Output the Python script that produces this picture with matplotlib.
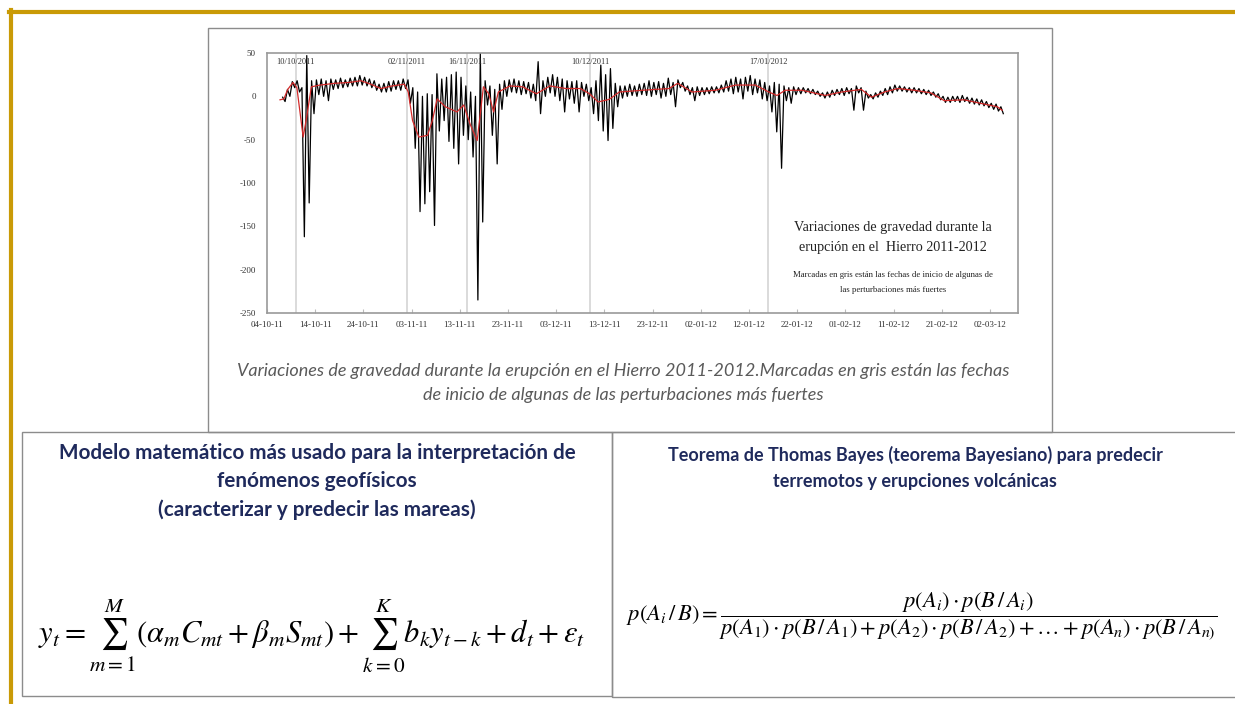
import datetime as dt

import numpy as np
import matplotlib
matplotlib.use('Agg')
from matplotlib import pyplot as plt
import matplotlib.dates as mdates
from matplotlib.patches import Rectangle
from matplotlib.lines import Line2D

plt.rcParams['axes.unicode_minus'] = False
plt.rcParams['mathtext.fontset'] = 'stix'

W, H = 1235, 704

# --- data --------------------------------------------------------------
start_date = dt.datetime(2011, 10, 4)

# smoothed gravity (red), knots as (days after 04-10-11, value)
red_days = [2.7, 3.5, 4.3, 5.4, 6.2, 7.0, 7.5, 8.2, 9.2, 11, 14, 17, 19.5, 21.5,
            23.6, 26, 28.5, 29.3, 30.2, 31.5, 33.3, 34.3, 35.3, 37, 39.4, 40.8,
            42.2, 43.6, 44.9, 46, 47, 48, 50.4, 53, 55.9, 58.7, 62, 65, 66.9,
            68.7, 71, 73.1, 77.9, 83.4, 85.2, 87.6, 88.2, 93, 97.2, 101.3, 104.1,
            105.8, 107.5, 111, 115.8, 119.2, 123.3, 125.4, 128.1, 130.9, 134.3,
            137.7, 140.5, 144.6, 148, 151.5, 152.5]
red_vals = [-4, -3, 8, 16, 10, -25, -47, -25, 11, 13, 15, 16, 18, 14,
            9, 12, 14, 5, -28, -47, -45, -28, -3, -12, -18, -10,
            -33, -51, 11, 3, -18, 5, 12, 11, 3, 12, 9, 9, 3,
            -6.5, -3.5, 5, 7, 9, 15, 7, 5, 7, 13, 13, 5,
            1, 7, 7, 1, 5, 8, -1, 5, 9, 7,
            4, -5, -4, -8, -12, -16]

# raw gravity (black): daily high / low, days 3..152
raw_first_day = 3
raw_hi = [-1, 8, 17, 18, 10, 47, 18, 19, 20, 18, 20, 19, 21, 19, 21, 22, 24, 22,
          20, 18, 14, 15, 17, 18, 18, 20, 19, 10, 5, 0, 3, 2, 26, 20, 22, 25, 28,
          22, 12, 5, 0, 50, 18, 12, 8, 14, 18, 19, 20, 18, 17, 16, 14, 40, 18, 22,
          25, 22, 20, 18, 17, 18, 16, 14, 10, 18, 36, 25, 32, 15, 12, 12, 14, 12,
          14, 15, 18, 16, 17, 15, 21, 16, 19, 16, 12, 10, 11, 10, 10, 11, 11, 13,
          18, 20, 22, 20, 22, 24, 20, 19, 16, 12, 16, 14, 12, 10, 11, 10, 10, 9,
          8, 6, 4, 5, 7, 8, 9, 10, 9, 12, 10, 6, 2, 4, 6, 9, 11, 13, 12, 11, 10,
          10, 9, 8, 7, 5, 3, 0, -1, 0, 0, 1, -1, -2, -3, -4, -6, -8, -9, -12]
raw_lo = [-6, 0, 10, 5, -162, -123, -20, 2, 0, -5, 8, 9, 10, 11, 12, 12, 13, 12,
          10, 7, 5, 5, 6, 8, 7, 9, -8, -60, -133, -124, -110, -149, -40, -28,
          -52, -60, -78, -45, -50, -70, -235, -145, -10, -45, -78, -15, 0, 5, 4,
          2, 3, -2, -5, -20, 0, 4, 0, -5, -18, -3, -8, -18, 0, -5, -20, -28, -40,
          -51, -37, -12, -2, 0, 1, 0, 2, 1, 0, 2, -2, 0, 2, -12, 10, 6, 2, -5, 1,
          2, 3, 4, 4, 5, 6, 3, 5, -3, 6, 2, 4, -3, -5, -18, -41, -83, -5, -8, 2,
          3, 4, 3, 2, 0, -2, -1, 1, 2, 1, 3, -16, 4, -16, -2, -3, -1, 1, 2, 4, 6,
          6, 5, 4, 4, 3, 2, 1, -1, -4, -7, -7, -6, -7, -6, -8, -9, -10, -11, -13,
          -15, -17, -20]

# onset of the strongest disturbances (grey lines)
event_days = [6, 29, 41.5, 67, 104]
event_labels = ['10/10/2011', '02/11/2011', '16/11/2011', '10/12/2011', '17/01/2012']

y_ticks = [50, 0, -50, -100, -150, -200, -250]

# --- figure ------------------------------------------------------------
fig = plt.figure(figsize=(W / 100, H / 100), dpi=100)
fig.patch.set_facecolor('white')


def fx(px):
    return px / W


def fy(py):
    return 1 - py / H


gold = '#C99A06'
fig.add_artist(Line2D([fx(9), fx(1235)], [fy(11.5), fy(11.5)], color=gold, lw=3))
fig.add_artist(Line2D([fx(10.5), fx(10.5)], [fy(10), fy(704)], color=gold, lw=3))

# boxes: chart, lower left, lower right
for x0, y0, x1, y1 in [(208, 28, 1052, 432), (22, 432, 612, 696), (612, 432, 1240, 697)]:
    fig.add_artist(Rectangle((fx(x0), fy(y1)), fx(x1 - x0), (y1 - y0) / H,
                             fill=False, edgecolor='#8c8c8c', lw=1.0))

# --- chart -------------------------------------------------------------
ax = fig.add_axes([fx(267), fy(313), fx(1018 - 267), 260 / H])
t0 = mdates.date2num(start_date)

for d in event_days:
    ax.axvline(t0 + d, color='#d4d4d4', lw=1.2, zorder=1)

raw_days = np.arange(raw_first_day, raw_first_day + len(raw_hi))
bx = np.column_stack((raw_days + 0.25, raw_days + 0.75)).ravel() + t0
by = np.column_stack((raw_hi, raw_lo)).ravel()
ax.plot(bx, by, color='black', lw=0.9, zorder=2)
ax.plot(t0 + np.array(red_days), red_vals, color='#d42a2a', lw=0.9, zorder=3)

for d, lab in zip(event_days, event_labels):
    ax.text(t0 + d, 0.965, lab, transform=ax.get_xaxis_transform(), ha='center',
            va='center', fontsize=6, family='Liberation Serif', color='#333333')

ax.set_ylim(-250, 50)
ax.set_yticks(y_ticks)
ax.set_xlim(t0, t0 + 155.8)
ax.set_xticks([t0 + 10 * i for i in range(16)])
ax.xaxis.set_major_formatter(mdates.DateFormatter('%d-%m-%y'))
for lab in ax.get_xticklabels() + ax.get_yticklabels():
    lab.set_family('Liberation Serif')
    lab.set_fontsize(6.5)
    lab.set_color('#333333')
ax.tick_params(axis='x', direction='in', length=3, color='#bbbbbb', pad=6)
ax.tick_params(axis='y', length=0, pad=8)
for s in ax.spines.values():
    s.set_color('#9a9a9a')
    s.set_linewidth(1.2)

serif = 'Liberation Serif'
fig.text(fx(893), fy(227), 'Variaciones de gravedad durante la', ha='center', va='center',
         fontsize=10.2, family=serif, color='#222222')
fig.text(fx(893), fy(248), 'erupción en el  Hierro 2011-2012', ha='center', va='center',
         fontsize=10.2, family=serif, color='#222222')
fig.text(fx(893), fy(275), 'Marcadas en gris están las fechas de inicio de algunas de',
         ha='center', va='center', fontsize=6.3, family=serif, color='#222222')
fig.text(fx(893), fy(290), 'las perturbaciones más fuertes', ha='center', va='center',
         fontsize=6.3, family=serif, color='#222222')

# caption
cap = '#5a5a5a'
fig.text(fx(623), fy(371), 'Variaciones de gravedad durante la erupción en el Hierro 2011-2012.'
         'Marcadas en gris están las fechas', ha='center', va='center', fontsize=13,
         family='Lato', style='italic', color=cap)
fig.text(fx(623), fy(395), 'de inicio de algunas de las perturbaciones más fuertes',
         ha='center', va='center', fontsize=13, family='Lato', style='italic', color=cap)

# headings
navy = '#1f2a5c'
for y, s in [(453, 'Modelo matemático más usado para la interpretación de'),
             (481, 'fenómenos geofísicos'),
             (510, '(caracterizar y predecir las mareas)')]:
    fig.text(fx(317), fy(y), s, ha='center', va='center', fontsize=14.9,
             family='Lato', weight='bold', color=navy)
for y, s in [(455, 'Teorema de Thomas Bayes (teorema Bayesiano) para predecir'),
             (482, 'terremotos y erupciones volcánicas')]:
    fig.text(fx(915), fy(y), s, ha='center', va='center', fontsize=13,
             family='Lato', weight='bold', color=navy)

# formulas
fig.text(fx(311), fy(636),
         r'$y_t=\sum_{m=1}^{M}(\alpha_m C_{mt}+\beta_m S_{mt})+\sum_{k=0}^{K}b_k y_{t-k}+d_t+\varepsilon_t$',
         ha='center', va='center', fontsize=22, color='black')
fig.text(fx(922), fy(616),
         r'$p(A_i\,/\,B)=\dfrac{p(A_i)\cdot p(B\,/\,A_i)}'
         r'{p(A_1)\cdot p(B\,/\,A_1)+p(A_2)\cdot p(B\,/\,A_2)+\ldots+p(A_n)\cdot p(B\,/\,A_{n)}}$',
         ha='center', va='center', fontsize=16.2, color='black')

plt.savefig('out.png', dpi=100)
plt.close()
